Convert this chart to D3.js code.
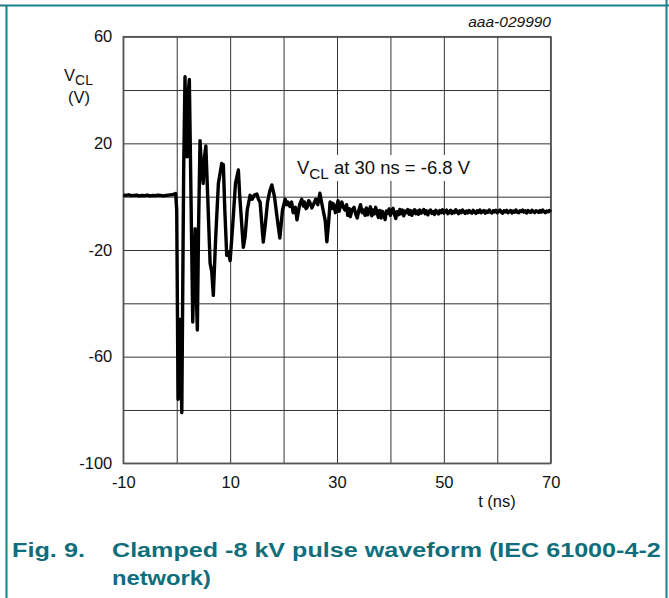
<!DOCTYPE html>
<html><head><meta charset="utf-8">
<script src="https://cdn.jsdelivr.net/npm/d3@7"></script>
<style>
html,body{margin:0;padding:0;background:#fff;}
svg{display:block;font-family:"Liberation Sans",Arial,Helvetica,sans-serif;}
</style></head>
<body>
<svg id="chart" width="669" height="598"></svg>
<script>
// ---- data ----
const timeNs = [
 -10,-9.5,-9,-8.5,-8,-7.5,-7,-6.5,-6,-5.5,-5,-4.5,-4,-3.5,-3,-2.5,-2,-1.5,-1,-0.5,-0.2,
 0.0,0.25,0.45,0.6,0.95,1.3,1.55,1.75,1.95,2.2,2.36,2.6,3.0,3.2,3.45,3.65,3.86,4.1,4.36,4.6,4.95,5.2,5.45,5.8,
 6.25,6.55,6.85,7.3,7.8,8.43,8.6,8.73,9.0,9.36,9.7,10.0,10.5,11.0,11.54,11.8,12.47,12.8,13.2,13.73,
 14.1,14.5,15.0,15.3,15.6,16.2,16.5,17.0,17.4,17.8,18.3,18.8,19.3,19.8,20.3,20.6,20.8,21.2,21.5,21.8,22.2,22.5,23.0,23.4,23.7,23.9,24.2,24.4,
 24.7,24.9,25.3,25.7,26.0,26.4,26.8,27.1,27.4,27.8,28.1,28.5,28.7,29.0,29.2,29.4,29.7,30.0,30.2,30.4,30.7,30.9,31.2,31.5,31.8,32.0,32.3,32.5,32.8,33.2,
 33.5,33.8,34.1,34.4,34.7,
 35,35.25,35.5,35.75,36,36.25,36.5,36.75,37,37.25,37.5,37.75,38,38.25,38.5,38.75,39,39.25,39.5,39.75,
 40,40.25,40.5,40.75,41,41.25,41.5,41.75,42,42.25,42.5,42.75,43,43.25,43.5,43.75,44,44.25,44.5,44.75,
 45,45.25,45.5,45.75,46,46.25,46.5,46.75,47,47.25,47.5,47.75,48,48.25,48.5,48.75,49,49.25,49.5,49.75,
 50,50.25,50.5,50.75,51,51.25,51.5,51.75,52,52.25,52.5,52.75,53,53.25,53.5,53.75,54,54.25,54.5,54.75,
 55,55.25,55.5,55.75,56,56.25,56.5,56.75,57,57.25,57.5,57.75,58,58.25,58.5,58.75,59,59.25,59.5,59.75,
 60,60.25,60.5,60.75,61,61.25,61.5,61.75,62,62.25,62.5,62.75,63,63.25,63.5,63.75,64,64.25,64.5,64.75,
 65,65.25,65.5,65.75,66,66.25,66.5,66.75,67,67.25,67.5,67.75,68,68.25,68.5,68.75,69,69.25,69.5,69.75,70
];
const vclVolts = [
 0.6,0.5,0.7,0.4,0.5,0.6,0.3,0.5,0.4,0.6,0.3,0.5,0.4,0.6,0.5,0.3,0.5,0.6,0.7,0.9,1.2,
 -5,-76,-50,-46,-81,10,45,20,15,40,44,10,-47,-30,-12,-35,-50,-10,21,12,5,15,19,0,
 -25,-28,-37,-15,5,12.5,11,12,-5,-22,-21,-24,-10,5,10,0,-19,-15,-5,0.5,
 -1,0.5,1,-1,-2,-17,-12,-2,2,4.4,0,-8,-15.5,-5,-1,-3,-2,-3.7,-2,-6,-4,-8.7,-3,-1,-3.5,-2,-4.5,-4,
 -1.5,-2,-4.2,-2.5,-1,-3,1.3,-2,-5,-9,-16.9,-8,-2,-4.5,-2.5,-3,-6,-3.5,-1.5,-5.5,-3,-2,-4,-5,-3,-7,-4.5,-7.5,-5,-4,
 -6.5,-8,-5,-3,-6,
 -5.0,-7.0,-4.2,-6.8,-5.5,-3.8,-7.2,-5.0,-6.5,-4.0,-6.0,-7.8,-5.2,-8.0,-5.5,-6.8,-8.6,-5.4,-6.2,-4.6,
 -7.0,-5.2,-4.4,-6.6,-8.2,-5.6,-6.8,-4.8,-6.4,-5.0,-7.2,-5.4,-6.0,-4.8,-6.6,-5.2,-7.0,-5.6,-4.9,-6.4,
 -5.4,-6.6,-5.0,-6.2,-5.6,-4.8,-6.4,-5.3,-6.8,-5.5,-5.0,-6.3,-5.6,-6.7,-5.1,-5.9,-6.5,-5.2,-6.0,-4.9,
 -6.2,-5.4,-5.0,-6.4,-5.7,-5.1,-6.3,-5.5,-6.0,-4.9,-5.8,-6.4,-5.3,-6.0,-5.0,-5.7,-6.3,-5.4,-6.1,-5.2,
 -5.8,-6.2,-5.1,-5.7,-6.3,-5.3,-5.9,-5.0,-6.0,-5.6,-5.2,-6.2,-5.4,-5.9,-5.0,-5.8,-6.1,-5.3,-5.7,-5.1,
 -6.0,-5.4,-5.0,-5.9,-6.2,-5.3,-5.7,-5.1,-6.0,-5.5,-5.2,-6.1,-5.4,-5.8,-5.0,-5.9,-6.0,-5.3,-5.6,-5.0,
 -5.8,-5.3,-6.1,-5.2,-5.7,-5.9,-5.1,-5.6,-6.0,-5.3,-5.5,-5.9,-5.2,-5.8,-5.0,-5.6,-6.0,-5.4,-5.7,-5.2,-5.8
];
const xGridValues = [-10,0,10,20,30,40,50,60,70];
const yGridValues = [-100,-80,-60,-40,-20,0,20,40,60];
const xTickLabels = [-10,10,30,50,70];
const yTickLabels = [-100,-60,-20,20,60];
const annotationText = {main:"V", sub:"CL", rest:" at 30 ns = -6.8 V"};
const figNumber = "Fig. 9.";
const captionLines = ["Clamped -8 kV pulse waveform (IEC 61000-4-2", "network)"];
const docId = "aaa-029990";

// ---- layout ----
const svg = d3.select("#chart");
const L = 123.3, R = 550.7, T = 36.7, B = 463.3;
const x = d3.scaleLinear().domain([-10,70]).range([L,R]);
const y = d3.scaleLinear().domain([-100,60]).range([B,T]);
const teal = "#1a7f8b", tealText = "#0f6e7b";
const fmt = d => String(d);

// frame
svg.append("line").attr("x1",0).attr("x2",669).attr("y1",5.5).attr("y2",5.5).attr("stroke",teal).attr("stroke-width",2);
svg.append("line").attr("x1",6.5).attr("x2",6.5).attr("y1",5).attr("y2",598).attr("stroke",teal).attr("stroke-width",2);
svg.append("line").attr("x1",666.5).attr("x2",666.5).attr("y1",0).attr("y2",598).attr("stroke",teal).attr("stroke-width",2);

// grid
const grid = svg.append("g");
grid.append("g").attr("transform",`translate(0,${B})`)
  .call(d3.axisBottom(x).tickValues(xGridValues).tickSize(-(B-T)).tickFormat(""))
  .call(g=>g.select(".domain").remove())
  .call(g=>g.selectAll("line").attr("stroke","#333").attr("stroke-width",1));
grid.append("g").attr("transform",`translate(${L},0)`)
  .call(d3.axisLeft(y).tickValues(yGridValues).tickSize(-(R-L)).tickFormat(""))
  .call(g=>g.select(".domain").remove())
  .call(g=>g.selectAll("line").attr("stroke","#333").attr("stroke-width",1));
svg.append("rect").attr("x",L).attr("y",T).attr("width",R-L).attr("height",B-T)
  .attr("fill","none").attr("stroke","#555").attr("stroke-width",1.5);

// tick labels
const xa = svg.append("g").attr("transform",`translate(0,${B})`)
  .call(d3.axisBottom(x).tickValues(xTickLabels).tickSize(0).tickPadding(13).tickFormat(fmt));
xa.select(".domain").remove();
xa.selectAll("text").attr("font-size",16.5).attr("fill","#111").attr("font-family","Liberation Sans, Arial, sans-serif");
const ya = svg.append("g").attr("transform",`translate(${L},0)`)
  .call(d3.axisLeft(y).tickValues(yTickLabels).tickSize(0).tickPadding(11).tickFormat(fmt));
ya.select(".domain").remove();
ya.selectAll("text").attr("font-size",16.5).attr("fill","#111").attr("font-family","Liberation Sans, Arial, sans-serif");

// axis titles
const yt = svg.append("text").attr("x",64).attr("y",81).attr("font-size",16.5).attr("fill","#111");
yt.append("tspan").text("V");
yt.append("tspan").attr("font-size",14).attr("dy",4).text("CL");
svg.append("text").attr("x",79).attr("y",103).attr("text-anchor","middle").attr("font-size",16.5).attr("fill","#111").text("(V)");
svg.append("text").attr("x",497).attr("y",507).attr("text-anchor","middle").attr("font-size",16.5).attr("fill","#111").text("t (ns)");
svg.append("text").attr("x",551).attr("y",27).attr("text-anchor","end").attr("font-size",15.5).attr("font-style","italic").attr("fill","#111").text(docId);

// waveform
const pts = timeNs.map((t,i)=>[t,vclVolts[i]]);
svg.append("path").datum(pts)
  .attr("fill","none").attr("stroke","#000").attr("stroke-width",3.4).attr("stroke-linejoin","round")
  .attr("d", d3.line().x(d=>x(d[0])).y(d=>y(d[1])));

// annotation
svg.append("rect").attr("x",294).attr("y",155).attr("width",184).attr("height",26).attr("fill","#fff");
const an = svg.append("text").attr("x",297).attr("y",174).attr("font-size",17.5).attr("fill","#111")
  .attr("textLength",173).attr("lengthAdjust","spacingAndGlyphs");
an.append("tspan").text(annotationText.main);
an.append("tspan").attr("font-size",14.5).attr("dy",5).text(annotationText.sub);
an.append("tspan").attr("dy",-5).text(annotationText.rest);

// caption: Arial-like bold, horizontally stretched to the reference widths
function stretchedText(str, x0, y0, targetW){
  const g = svg.append("g");
  const t = g.append("text").attr("x",0).attr("y",0).attr("font-size",19.5).attr("font-weight","bold")
    .attr("fill",tealText).text(str);
  const w = t.node().getComputedTextLength();
  g.attr("transform",`translate(${x0},${y0}) scale(${targetW/w},1)`);
}
stretchedText(figNumber, 12, 557, 73);
const capLens = [549, 99];
captionLines.forEach((s,i)=> stretchedText(s, 112, 557+28*i, capLens[i]));
</script>
</body></html>
